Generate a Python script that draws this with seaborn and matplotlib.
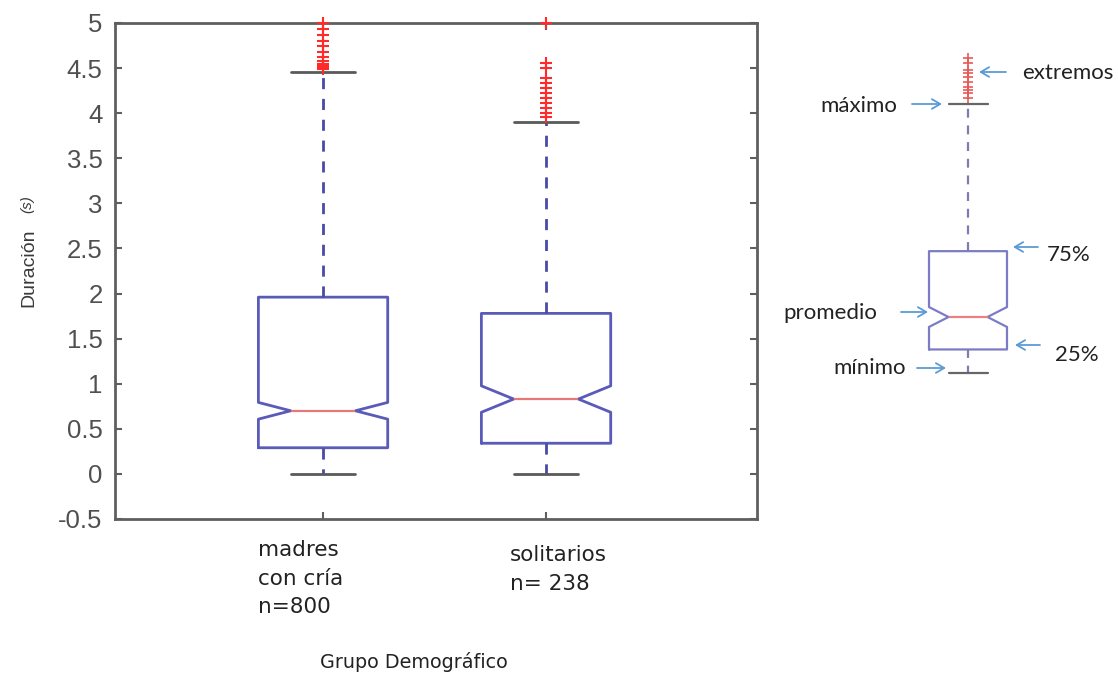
import numpy as np
import pandas as pd
import matplotlib
matplotlib.use("Agg")
import matplotlib.pyplot as plt
import seaborn as sns

# ---------------- data ----------------
groups = ["madres\ncon cría\nn=800", "solitarios\nn= 238"]
group_n = [800, 238]
# summary values (s): lower whisker, q1, median, q3, upper whisker
low_w = [0.0, 0.0]
q1 = [0.29, 0.34]
median = [0.70, 0.83]
q3 = [1.96, 1.78]
high_w = [4.46, 3.90]
fliers_madres = [4.49, 4.50, 4.52, 4.55, 4.58, 4.62, 4.68, 4.74, 4.80, 4.87, 4.93, 5.00]
fliers_solitarios = [3.96, 4.00, 4.06, 4.11, 4.17, 4.22, 4.28, 4.34, 4.39, 4.50, 4.56, 5.00]

# explanatory example box (right side)
ex_n = 240
ex_stats = [1.12, 1.38, 1.74, 2.47, 4.10]
ex_fliers = [4.17, 4.22, 4.26, 4.29, 4.35, 4.40, 4.45, 4.48, 4.56, 4.61]
ex_labels = ["extremos", "máximo", "75%", "promedio", "25%", "mínimo"]

yticks = [-0.5, 0, 0.5, 1, 1.5, 2, 2.5, 3, 3.5, 4, 4.5, 5]
ytick_labels = ["-0.5", "0", "0.5", "1", "1.5", "2", "2.5", "3", "3.5", "4", "4.5", "5"]
xlabel = "Grupo Demográfico"
ylabel = "Duración"
ylabel_unit = "(s)"


def build_sample(n, low, a, m, b, high, fl):
    """Tie-based sample whose boxplot statistics equal the values above."""
    fl = np.sort(np.asarray(fl, float))
    k = n // 8
    counts = [k, 2 * k, 2 * k, 2 * k]
    rest = n - sum(counts) - len(fl)
    body = np.repeat([low, a, m, b, high], counts + [rest])
    return np.concatenate([body, fl])


all_fliers = [fliers_madres, fliers_solitarios]
frames = []
for i, g in enumerate(groups):
    s = build_sample(group_n[i], low_w[i], q1[i], median[i], q3[i], high_w[i], all_fliers[i])
    frames.append(pd.DataFrame({"grupo": g, "duracion": s}))
df = pd.concat(frames, ignore_index=True)
ex_sample = build_sample(ex_n, *ex_stats, ex_fliers)

# ---------------- style ----------------
sns.set_style("white")
plt.rcParams["font.family"] = ["DejaVu Sans"]

W, H = 1118, 675
fig = plt.figure(figsize=(W / 100, H / 100), dpi=100)

ax_l, ax_r, ax_t, ax_b = 115, 757, 23, 519
ax = fig.add_axes([ax_l / W, 1 - ax_b / H, (ax_r - ax_l) / W, (ax_b - ax_t) / H])

box_c = "#5a5ab8"
whisk_c = "#4a4aa6"
cap_c = "#5a5a5a"
med_c = "#e87878"
fl_c = "#ff2a2a"

sns.boxplot(
    data=df, x="grupo", y="duracion", order=groups, ax=ax,
    notch=True, fill=False, width=0.58, whis=1.5,
    boxprops=dict(color=box_c, linewidth=2),
    whiskerprops=dict(color=whisk_c, linewidth=2, linestyle=(0, (4, 3.5))),
    capprops=dict(color=cap_c, linewidth=2),
    medianprops=dict(color=med_c, linewidth=1.6),
    flierprops=dict(marker="+", markeredgecolor=fl_c, markersize=9, markeredgewidth=1.5,
                    clip_on=False, zorder=5),
)

ax.set_xlim(-0.933, 1.946)
ax.set_ylim(-0.5, 5)
ax.set_yticks(yticks)
ax.set_yticklabels(ytick_labels, fontfamily="Liberation Sans", fontsize=18.5, color="#505050")
ax.set_xticks([0, 1])
ax.set_xticklabels(["", ""])
ax.set_xlabel("")
ax.set_ylabel("")
for sp in ax.spines.values():
    sp.set_visible(True)
    sp.set_color("#5f5f5f")
    sp.set_linewidth(2)
ax.tick_params(axis="both", direction="in", length=5, width=1.5, color="#5f5f5f",
               left=True, right=True, bottom=True, top=True, pad=9)

# category labels (left-aligned under each box)
label_offsets = [(-47, -15), (-26, -19)]
for i, g in enumerate(groups):
    ax.annotate(g, xy=(i, 0), xycoords=("data", "axes fraction"),
                xytext=label_offsets[i], textcoords="offset points",
                ha="left", va="top", fontsize=15.5, color="#222222", linespacing=1.55)

fig.text(414 / W, 1 - 662 / H, xlabel, ha="center", va="center", fontsize=13.8, color="#222222")
fig.text(29 / W, 1 - 268 / H, ylabel, rotation=90, ha="center", va="center",
         fontsize=14, color="#3a3a3a", fontfamily="Liberation Sans")
fig.text(27 / W, 1 - 204 / H, ylabel_unit, rotation=90, ha="center", va="center",
         fontsize=11, style="italic", color="#3a3a3a", fontfamily="Liberation Sans")

# ---------------- explanatory box on the right ----------------
ax2 = fig.add_axes([890 / W, 1 - ax_b / H, 156 / W, (ax_b - ax_t) / H])
sns.boxplot(
    y=ex_sample, ax=ax2, notch=True, fill=False, width=0.5, whis=1.5,
    boxprops=dict(color="#7c7cc4", linewidth=1.6),
    whiskerprops=dict(color="#7c7cb0", linewidth=1.6, linestyle=(0, (4, 3.5))),
    capprops=dict(color="#666666", linewidth=1.6),
    medianprops=dict(color="#ec8080", linewidth=1.6),
    flierprops=dict(marker="+", markeredgecolor="#e85a5a", markersize=7, markeredgewidth=1.2),
)
ax2.set_xlim(-0.5, 0.5)
ax2.set_ylim(-0.5, 5)
ax2.axis("off")

arrow_c = "#5b9bd5"
# text anchor and arrow tail/head in top-left pixel coords
ex_text_pos = [(1022, 73), (820, 106), (1047, 255), (783, 313), (1055, 355), (833, 368)]
ex_arrows = [((1006, 72), (979, 72)), ((912, 104), (942, 104)), ((1038, 247), (1013, 247)),
             ((901, 312), (928, 312)), ((1040, 345), (1015, 345)), ((917, 368), (946, 368))]
for lab, (tx, ty), (tail, head) in zip(ex_labels, ex_text_pos, ex_arrows):
    fig.text(tx / W, 1 - ty / H, lab, ha="left", va="center", fontsize=16,
             fontfamily="Lato", color="#222222")
    ax.annotate("", xy=(head[0], H - head[1]), xycoords="figure pixels",
                xytext=(tail[0], H - tail[1]), textcoords="figure pixels",
                arrowprops=dict(arrowstyle="->,head_length=0.6,head_width=0.35",
                                color=arrow_c, lw=1.3, shrinkA=0, shrinkB=0),
                annotation_clip=False)

fig.savefig("out.png", dpi=100)
